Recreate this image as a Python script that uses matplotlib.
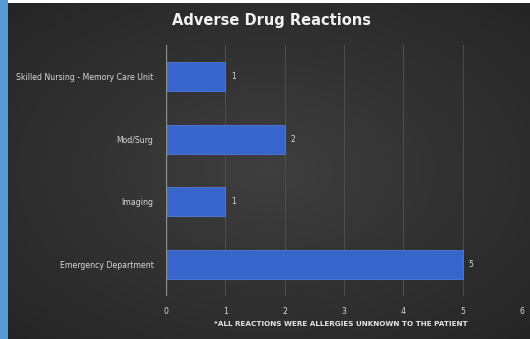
import matplotlib.pyplot as plt
import numpy as np

# chart data
units = ["Emergency Department", "Imaging", "Mod/Surg", "Skilled Nursing - Memory Care Unit"]
reactions = [5, 1, 2, 1]
x_ticks = [0, 1, 2, 3, 4, 5, 6]

fig = plt.figure(figsize=(5.30, 3.39), dpi=100)
fig.patch.set_facecolor("white")

# dark radial-ish background for the chart area
bg = fig.add_axes([8 / 530, 0, 522 / 530, 336 / 339])
yy, xx = np.mgrid[-1:1:200j, -1:1:300j]
r = np.clip(np.sqrt(xx ** 2 + yy ** 2) / 1.414, 0, 1)
level = 0.245 - 0.10 * r
img = np.dstack([level, level, level])
bg.imshow(img, aspect="auto", extent=[0, 1, 0, 1])
bg.set_axis_off()

# blue strip on the left edge
strip = fig.add_axes([0, 0, 8 / 530, 1])
strip.set_facecolor("#5b9bd5")
strip.set_xticks([])
strip.set_yticks([])
for s in strip.spines.values():
    s.set_visible(False)

# plot area
ax = fig.add_axes([166 / 530, (339 - 296) / 339, (522 - 166) / 530, (296 - 45) / 339])
ax.patch.set_alpha(0)
pos = np.arange(len(units))
ax.barh(pos, reactions, height=0.46, color="#3865cc", edgecolor="#4f7ddc", linewidth=0.6)
for p, v in zip(pos, reactions):
    ax.text(v + 0.1, p, str(v), color="#d9d9d9", fontsize=5.5, va="center", ha="left")

ax.set_xlim(0, 6)
ax.set_ylim(-0.5, len(units) - 0.5)
ax.set_xticks(x_ticks)
ax.set_xticklabels([str(t) for t in x_ticks])
ax.set_yticks(pos)
ax.set_yticklabels(units)
ax.tick_params(axis="both", colors="#d9d9d9", labelsize=5.6, length=0)
ax.tick_params(axis="x", pad=8)
ax.tick_params(axis="y", pad=9)
ax.grid(axis="x", color="#4e4e4e", linewidth=0.7)
ax.set_axisbelow(True)
for name, s in ax.spines.items():
    s.set_visible(False)
ax.axvline(0, color="#8c8c8c", linewidth=1.0)

fig.text(272 / 530, 1 - 20 / 339, "Adverse Drug Reactions", color="#f2f2f2",
         fontsize=10.5, fontweight="bold", ha="center", va="center")
fig.text(341 / 530, 1 - 324 / 339, "*ALL REACTIONS WERE ALLERGIES UNKNOWN TO THE PATIENT",
         color="#e6e6e6", fontsize=5.2, fontweight="bold", ha="center", va="center")

fig.savefig("out.png", dpi=100, facecolor=fig.get_facecolor())
